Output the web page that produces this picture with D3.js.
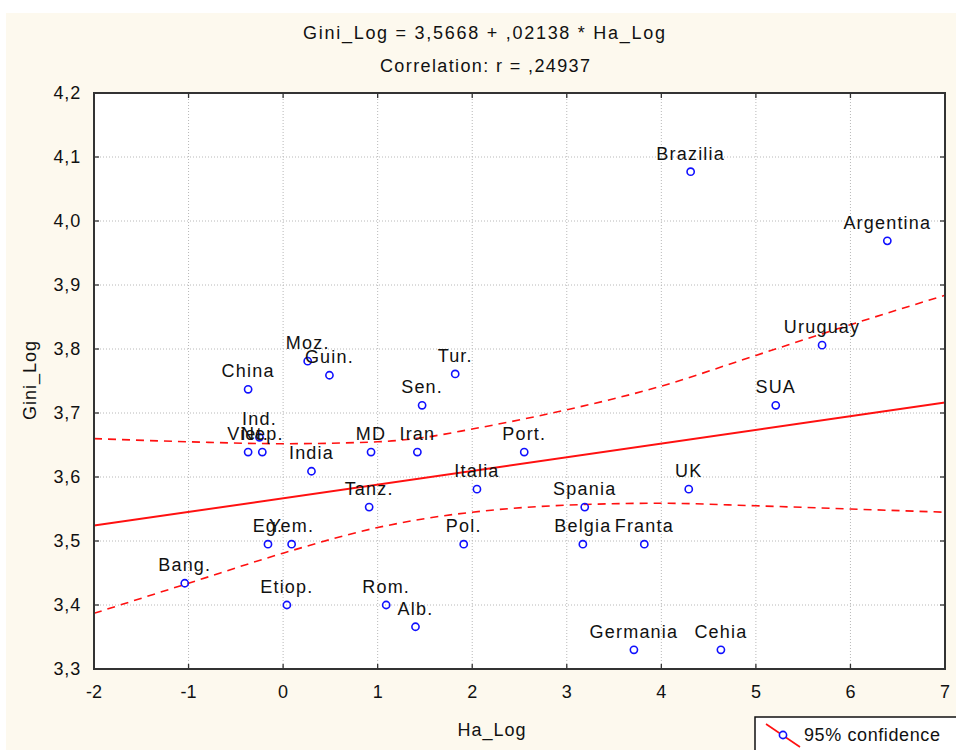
<!DOCTYPE html>
<html><head><meta charset="utf-8">
<script src="https://cdn.jsdelivr.net/npm/d3@7"></script>
<style>
body{margin:0;background:#fff;}
text{font-family:"Liberation Sans",Arial,sans-serif;fill:#111;}
</style></head>
<body><svg id="c" width="956" height="750"></svg>
<script>
const names = ["Brazilia","Argentina","Uruguay","SUA","UK","Spania","Belgia","Franta","Germania","Cehia","Port.","Italia","Pol.","Alb.","Rom.","Tanz.","MD","Iran","Sen.","Tur.","Guin.","Moz.","China","India","Ind.","Viet.","Nep.","Eg.","Yem.","Etiop.","Bang."];
const haLog = [4.31,6.39,5.70,5.21,4.29,3.19,3.17,3.82,3.71,4.63,2.55,2.05,1.91,1.40,1.09,0.91,0.93,1.42,1.47,1.82,0.49,0.26,-0.37,0.30,-0.25,-0.37,-0.22,-0.16,0.09,0.04,-1.04];
const giniLog = [4.077,3.969,3.806,3.712,3.581,3.553,3.495,3.495,3.330,3.330,3.639,3.581,3.495,3.366,3.400,3.553,3.639,3.639,3.712,3.761,3.759,3.781,3.737,3.609,3.662,3.639,3.639,3.495,3.495,3.400,3.434];
const xTicks = [-2,-1,0,1,2,3,4,5,6,7];
const yTicks = [3.3,3.4,3.5,3.6,3.7,3.8,3.9,4.0,4.1,4.2];
const yTickLabels = ["3,3","3,4","3,5","3,6","3,7","3,8","3,9","4,0","4,1","4,2"];
const fitIntercept = 3.5668, fitSlope = 0.02138;
const bandX = [-2,-1,0,1,1.5,2,3,4,5,6,7];
const bandUpper = [3.660,3.655,3.652,3.655,3.662,3.675,3.705,3.742,3.790,3.838,3.884];
const bandLower = [3.387,3.434,3.481,3.521,3.535,3.545,3.556,3.559,3.555,3.550,3.545];

const svg = d3.select("#c");
const L=94,R=945,T=93,B=669;
const x = d3.scaleLinear().domain([-2,7]).range([L,R]);
const y = d3.scaleLinear().domain([3.3,4.2]).range([B,T]);

svg.append("rect").attr("x",6).attr("y",13).attr("width",950).attr("height",737).attr("fill","#fdf9ee");
svg.append("rect").attr("x",L).attr("y",T).attr("width",R-L).attr("height",B-T).attr("fill","#fff");

// grid
const g = svg.append("g");
g.selectAll(".gx").data(xTicks.slice(1,-1)).join("line")
 .attr("x1",d=>x(d)).attr("x2",d=>x(d)).attr("y1",T).attr("y2",B)
 .attr("stroke","#b8b8b8").attr("stroke-dasharray","1,2");
g.selectAll(".gy").data(yTicks.slice(1,-1)).join("line")
 .attr("y1",d=>y(d)).attr("y2",d=>y(d)).attr("x1",L).attr("x2",R)
 .attr("stroke","#b8b8b8").attr("stroke-dasharray","1,2");

// clip
svg.append("clipPath").attr("id","pc").append("rect").attr("x",L).attr("y",T).attr("width",R-L).attr("height",B-T);
const pg = svg.append("g").attr("clip-path","url(#pc)");

// confidence bands
const ln = d3.line().x(d=>x(d[0])).y(d=>y(d[1])).curve(d3.curveMonotoneX);
[bandUpper,bandLower].forEach(arr=>{
  pg.append("path").attr("d",ln(bandX.map((v,i)=>[v,arr[i]])))
   .attr("fill","none").attr("stroke","#ff1010").attr("stroke-width",1.6).attr("stroke-dasharray","8,6");
});
// fit line
pg.append("line").attr("x1",x(-2)).attr("x2",x(7))
 .attr("y1",y(fitIntercept+fitSlope*-2)).attr("y2",y(fitIntercept+fitSlope*7))
 .attr("stroke","#ff1010").attr("stroke-width",2);

// points
pg.selectAll("circle.p").data(haLog).join("circle")
 .attr("cx",d=>x(d)).attr("cy",(d,i)=>y(giniLog[i])).attr("r",3.6)
 .attr("fill","none").attr("stroke","#1010ff").attr("stroke-width",1.6);
// labels
svg.append("g").selectAll("text").data(names).join("text")
 .attr("x",(d,i)=>x(haLog[i])).attr("y",(d,i)=>y(giniLog[i])-12)
 .attr("text-anchor","middle").attr("font-size",18).attr("letter-spacing","1.2px")
 .text(d=>d);

// frame
svg.append("rect").attr("x",L).attr("y",T).attr("width",R-L).attr("height",B-T)
 .attr("fill","none").attr("stroke","#333").attr("stroke-width",2);

// ticks inward
const tk = svg.append("g").attr("stroke","#333").attr("stroke-width",1.3);
xTicks.slice(1,-1).forEach(v=>{
  tk.append("line").attr("x1",x(v)).attr("x2",x(v)).attr("y1",B).attr("y2",B-5);
  tk.append("line").attr("x1",x(v)).attr("x2",x(v)).attr("y1",T).attr("y2",T+5);
});
yTicks.slice(1,-1).forEach(v=>{
  tk.append("line").attr("y1",y(v)).attr("y2",y(v)).attr("x1",L).attr("x2",L+5);
  tk.append("line").attr("y1",y(v)).attr("y2",y(v)).attr("x1",R).attr("x2",R-5);
});

// tick labels
svg.append("g").selectAll("text").data(xTicks).join("text")
 .attr("x",d=>x(d)).attr("y",B+29).attr("text-anchor","middle").attr("font-size",18)
 .text(d=>d<0?"-"+Math.abs(d):String(d));
svg.append("g").selectAll("text").data(yTicks).join("text")
 .attr("x",L-13).attr("y",d=>y(d)+6).attr("text-anchor","end").attr("font-size",18).attr("letter-spacing","0.8px")
 .text((d,i)=>yTickLabels[i]);

// titles
svg.append("text").attr("x",484).attr("y",39).attr("text-anchor","middle").attr("font-size",18)
 .attr("textLength",362).attr("lengthAdjust","spacing").text("Gini_Log = 3,5668 +  ,02138 * Ha_Log");
svg.append("text").attr("x",485).attr("y",72).attr("text-anchor","middle").attr("font-size",18)
 .attr("textLength",210).attr("lengthAdjust","spacing").text("Correlation: r =  ,24937");
svg.append("text").attr("x",492).attr("y",736).attr("text-anchor","middle").attr("font-size",18).attr("letter-spacing","1px").text("Ha_Log");
svg.append("text").attr("transform","translate(36,380) rotate(-90)").attr("text-anchor","middle").attr("font-size",18).attr("letter-spacing","1px").text("Gini_Log");

// legend
const lg = svg.append("g");
lg.append("rect").attr("x",755).attr("y",717).attr("width",210).attr("height",50).attr("fill","#fff").attr("stroke","#111").attr("stroke-width",1.5);
lg.append("line").attr("x1",766).attr("y1",724).attr("x2",800).attr("y2",747).attr("stroke","#ff1010").attr("stroke-width",1.6);
lg.append("circle").attr("cx",783).attr("cy",735).attr("r",3.6).attr("fill","#fff").attr("stroke","#1010ff").attr("stroke-width",1.6);
lg.append("text").attr("x",804).attr("y",741).attr("font-size",18).attr("letter-spacing","0.6px").text("95% confidence");
</script></body></html>
